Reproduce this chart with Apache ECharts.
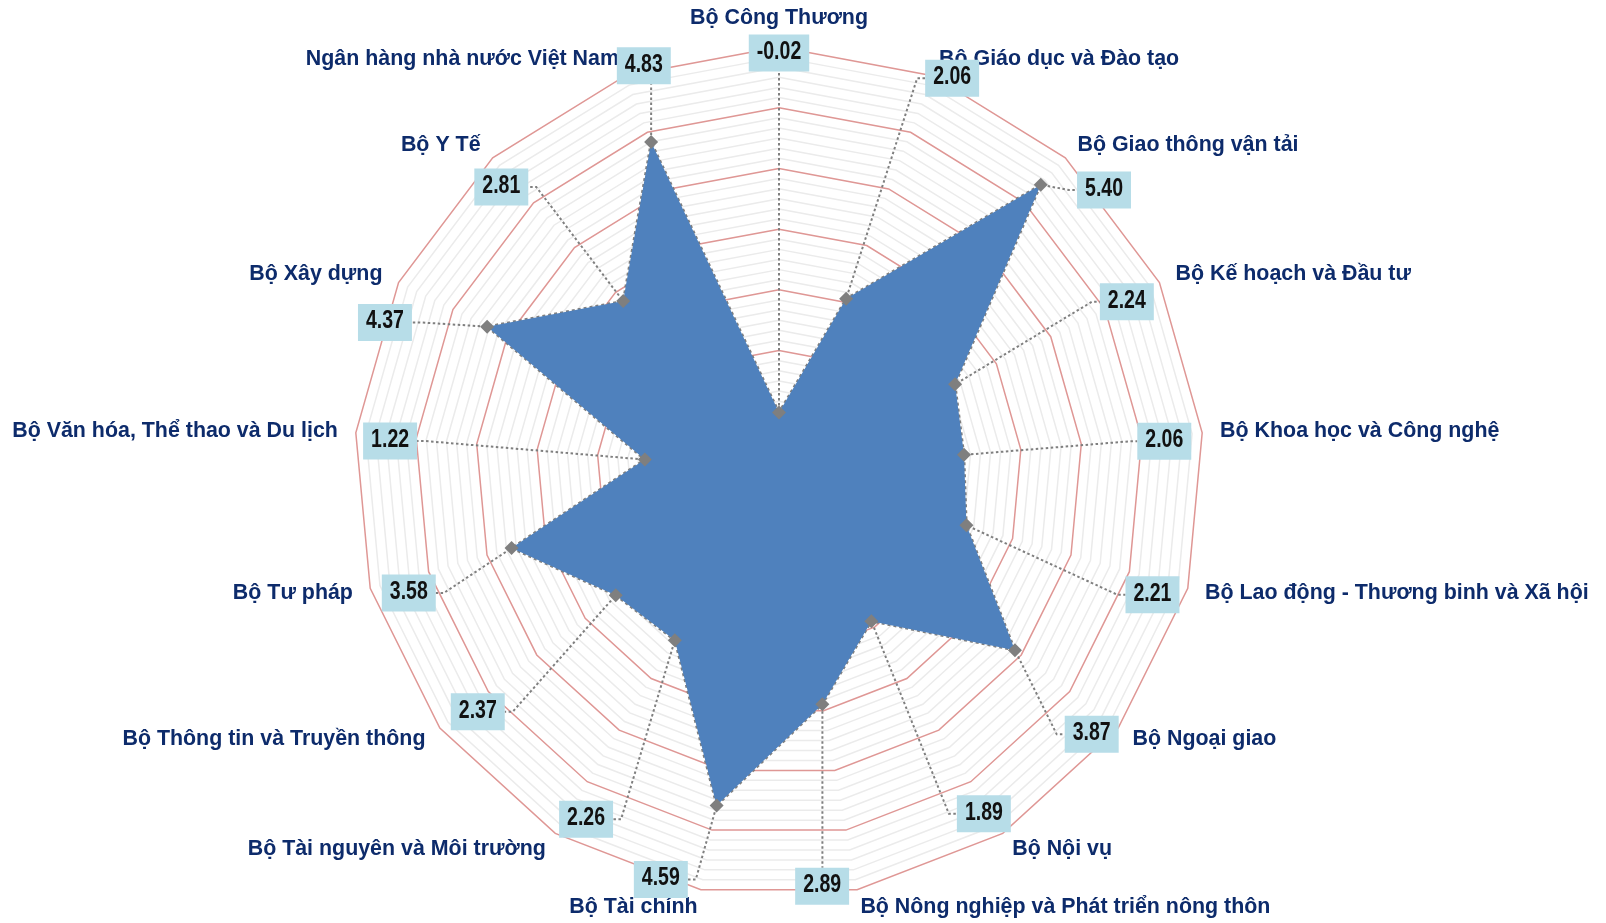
<!DOCTYPE html>
<html>
<head>
<meta charset="utf-8">
<script src="https://cdn.jsdelivr.net/npm/echarts@6/dist/echarts.min.js"></script>
<style>
  html, body { margin: 0; padding: 0; background: #fff; }
  #chart { width: 1606px; height: 923px; }
</style>
</head>
<body>
<div id="chart"></div>
<script>
// clockwise from the top, as in the reference
const categories = [
  'Bộ Công Thương',
  'Bộ Giáo dục và Đào tạo',
  'Bộ Giao thông vận tải',
  'Bộ Kế hoạch và Đầu tư',
  'Bộ Khoa học và Công nghệ',
  'Bộ Lao động - Thương binh và Xã hội',
  'Bộ Ngoại giao',
  'Bộ Nội vụ',
  'Bộ Nông nghiệp và Phát triển nông thôn',
  'Bộ Tài chính',
  'Bộ Tài nguyên và Môi trường',
  'Bộ Thông tin và Truyền thông',
  'Bộ Tư pháp',
  'Bộ Văn hóa, Thể thao và Du lịch',
  'Bộ Xây dựng',
  'Bộ Y Tế',
  'Ngân hàng nhà nước Việt Nam'
]
const scores = [-0.02, 2.06, 5.40, 2.24, 2.06, 2.21, 3.87, 1.89, 2.89, 4.59, 2.26, 2.37, 3.58, 1.22, 4.37, 2.81, 4.83]
const axisMin = -1
const axisMax = 6

// where each value box sits: [radius on the value scale, angle nudge in degrees, + is anticlockwise]
const boxSpots = [
  [5.95, 0], [6.13, -2.4], [6.12, -6.4], [5.40, 0], [5.37, -0.3], [5.46, -1.9],
  [5.69, -2.6], [5.52, -0.6], [5.81, -4.6], [5.94, -5.7], [5.50, 2.5], [5.31, 1.1],
  [5.40, 1.8], [5.43, 0.3], [5.96, 5.3], [5.59, 1.6], [6.10, -2.9]
]

const N = categories.length
const step = 360 / N
const center = [779, 472]
const radius = 425

// radar lays indicators out counter-clockwise, so flip the order
const radarOrder = [0]
for (let i = N - 1; i > 0; i--) radarOrder.push(i)

const boxFont = 'bold 25px "Liberation Sans", Arial, sans-serif'
const squeeze = 0.78
const measure = document.createElement('canvas').getContext('2d')
measure.font = boxFont

const renderBox = (params, api) => {
  const i = params.dataIndex
  const p = api.coord([scores[i], i])
  // the angle axis runs clockwise
  const a = (i - boxSpots[i][1] / step + N) % N
  const spot = api.coord([boxSpots[i][0], a])
  const c = [spot[0], spot[1] + 3]
  const txt = scores[i].toFixed(2)
  const w = measure.measureText(txt).width * squeeze + 16
  const h = 37
  const dx = c[0] - p[0]
  const dy = c[1] - p[1]
  let pts
  if (Math.abs(dx) <= w / 2) {
    pts = [p, [p[0], dy > 0 ? c[1] - h / 2 : c[1] + h / 2]]
  } else {
    const sx = dx > 0 ? c[0] - w / 2 : c[0] + w / 2
    const hx = dx > 0 ? sx - 8 : sx + 8
    pts = [p, [hx, c[1]], [sx, c[1]]]
  }
  // start just outside the diamond
  const ux = pts[1][0] - p[0]
  const uy = pts[1][1] - p[1]
  const len = Math.sqrt(ux * ux + uy * uy) || 1
  pts[0] = [p[0] + ux / len * 7, p[1] + uy / len * 7]

  return {
    type: 'group',
    children: [
      {
        type: 'polyline',
        shape: { points: pts },
        style: { stroke: '#7f7f7f', lineWidth: 2, lineDash: [2.5, 2.5], fill: null }
      },
      {
        type: 'rect',
        shape: { x: c[0] - w / 2, y: c[1] - h / 2, width: w, height: h },
        style: { fill: '#b7dde8' }
      },
      {
        type: 'text',
        x: c[0],
        y: c[1] - 1,
        scaleX: squeeze,
        style: { text: txt, font: boxFont, fill: '#111', align: 'center', verticalAlign: 'middle' }
      }
    ]
  }
}

const chart = echarts.init(document.getElementById('chart'))

const option = {
  animation: false,
  radar: {
    center: center,
    radius: radius,
    startAngle: 90,
    shape: 'polygon',
    splitNumber: 42,
    indicator: radarOrder.map(i => ({ name: categories[i], min: axisMin, max: axisMax })),
    axisName: {
      color: '#0d2b6b',
      fontSize: 21.4,
      fontWeight: 'bold',
      fontFamily: '"Liberation Sans", Arial, sans-serif'
    },
    axisNameGap: 18,
    axisLine: { show: false },
    axisTick: { show: false },
    axisLabel: { show: false },
    splitArea: { show: false },
    splitLine: {
      lineStyle: {
        // every sixth ring is a main gridline
        color: ['#df9795', '#ebebeb', '#ebebeb', '#ebebeb', '#ebebeb', '#ebebeb'],
        width: 1.5
      }
    }
  },
  polar: { center: center, radius: radius },
  angleAxis: { type: 'value', min: 0, max: N, startAngle: 90, clockwise: true, show: false },
  radiusAxis: { type: 'value', min: axisMin, max: axisMax, show: false },
  series: [
    {
      type: 'radar',
      silent: true,
      symbol: 'diamond',
      symbolSize: 14,
      itemStyle: { color: '#7f7f7f' },
      lineStyle: { color: '#7f7f7f', width: 2.5, type: [3, 3] },
      areaStyle: { color: '#4f81bd', opacity: 1 },
      data: [{ name: 'Điểm', value: radarOrder.map(i => scores[i]) }]
    },
    {
      type: 'custom',
      coordinateSystem: 'polar',
      silent: true,
      z: 5,
      data: scores.map((v, i) => [v, i]),
      renderItem: renderBox
    }
  ]
}

chart.setOption(option)
</script>
</body>
</html>
